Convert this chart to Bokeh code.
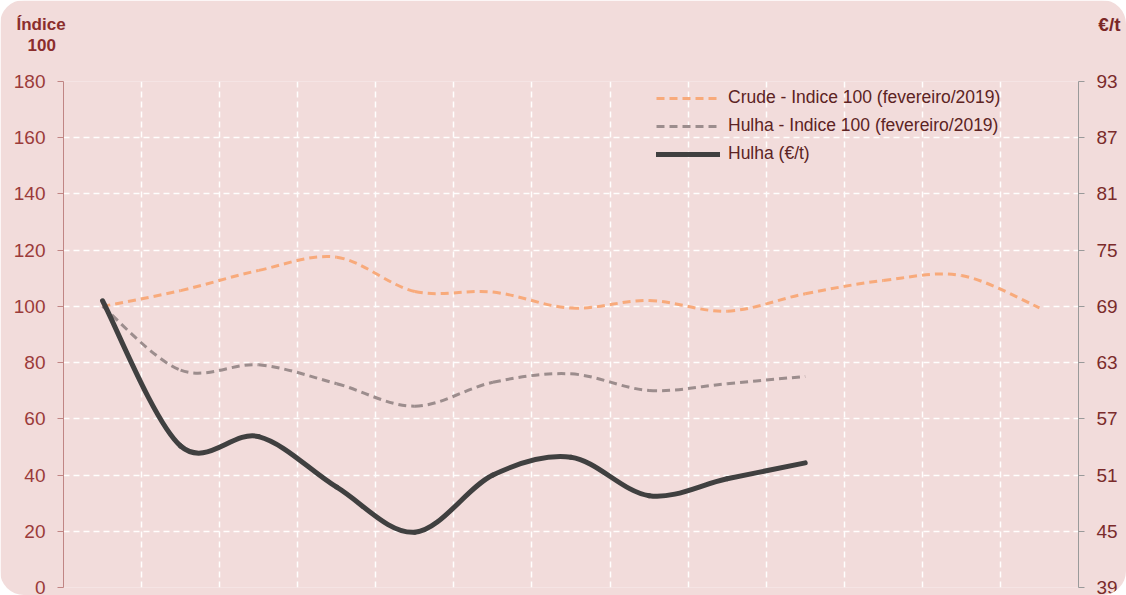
from bokeh.plotting import figure
from bokeh.models import (Range1d, LinearAxis, FixedTicker, Legend, LegendItem,
                          ColumnDataSource, InlineStyleSheet, Title)
from bokeh.embed import file_html
from bokeh.resources import INLINE

# ---- data ----
months = ["fev/19", "mar/19", "abr/19", "mai/19", "jun/19", "jul/19", "ago/19",
          "set/19", "out/19", "nov/19", "dez/19", "jan/20", "fev/20"]
crude_idx = [100, 105.6, 112.8, 117.5, 105.3, 105.1, 99.4, 102.1, 98.3, 104.5, 109.2, 111.0, 99.5]
hulha_idx = [100, 77.3, 79.2, 72.5, 64.5, 73.0, 76.0, 70.1, 72.5, 75.1]
hulha_eur = [69.6, 54.1, 55.1, 49.7, 44.9, 51.0, 52.9, 48.8, 50.6, 52.3]
left_ticks = [0, 20, 40, 60, 80, 100, 120, 140, 160, 180]
right_ticks = [39, 45, 51, 57, 63, 69, 75, 81, 87, 93]
series_names = ["Crude - Indice 100 (fevereiro/2019)",
                "Hulha - Indice 100 (fevereiro/2019)",
                "Hulha (€/t)"]

PINK = "#f2dcdb"


def smooth_source(values):
    """Bezier segments (Catmull-Rom control points) through the data points."""
    n = len(values)
    xs = [i + 0.5 for i in range(n)]
    d = dict(x0=[], y0=[], x1=[], y1=[], cx0=[], cy0=[], cx1=[], cy1=[])
    for i in range(n - 1):
        xp, yp = (xs[i - 1], values[i - 1]) if i > 0 else (xs[i], values[i])
        xn, yn = (xs[i + 2], values[i + 2]) if i + 2 < n else (xs[i + 1], values[i + 1])
        d["x0"].append(xs[i]); d["y0"].append(values[i])
        d["x1"].append(xs[i + 1]); d["y1"].append(values[i + 1])
        d["cx0"].append(xs[i] + (xs[i + 1] - xp) / 6)
        d["cy0"].append(values[i] + (values[i + 1] - yp) / 6)
        d["cx1"].append(xs[i + 1] - (xn - xs[i]) / 6)
        d["cy1"].append(values[i + 1] - (yn - values[i]) / 6)
    return ColumnDataSource(d)


p = figure(width=1126, height=595, output_backend="svg", toolbar_location=None,
           x_range=Range1d(0, len(months)), y_range=Range1d(0, 180),
           min_border_left=63, min_border_right=48, min_border_top=81, min_border_bottom=8)
p.stylesheets = [InlineStyleSheet(css=":host { border-radius: 24px; overflow: hidden; }")]
p.background_fill_color = PINK
p.border_fill_color = PINK
p.outline_line_color = None

p.extra_y_ranges = {"eur": Range1d(39, 93)}

# axes
p.xaxis.visible = False
yl = p.yaxis[0]
yl.ticker = FixedTicker(ticks=left_ticks)
yl.axis_line_color = "#c08584"
yl.major_tick_line_color = "#c08584"
yl.major_tick_out = 6
yl.major_tick_in = 0
yl.minor_tick_line_color = None
yl.major_label_standoff = 12
yl.major_label_text_font = "Liberation Sans"
yl.major_label_text_font_size = "19px"
yl.major_label_text_color = "#9b3b3a"

yr = LinearAxis(y_range_name="eur", ticker=FixedTicker(ticks=right_ticks))
yr.axis_line_color = "#9a9a9a"
yr.major_tick_line_color = "#9a9a9a"
yr.major_tick_out = 6
yr.major_tick_in = 0
yr.minor_tick_line_color = None
yr.major_label_standoff = 12
yr.major_label_text_font = "Liberation Sans"
yr.major_label_text_font_size = "19px"
yr.major_label_text_color = "#7a2b2b"
p.add_layout(yr, "right")

# grids
p.xgrid.ticker = FixedTicker(ticks=list(range(0, len(months) + 1)))
for g in (p.xgrid, p.ygrid):
    g.grid_line_color = "white"
    g.grid_line_dash = "6 4"
    g.grid_line_width = 1.5
    g.grid_line_alpha = 0.95

# smoothed lines
p.bezier(x0="x0", y0="y0", x1="x1", y1="y1", cx0="cx0", cy0="cy0", cx1="cx1", cy1="cy1",
         source=smooth_source(crude_idx), line_color="#f8aa7b", line_width=3, line_dash="8 5")
p.bezier(x0="x0", y0="y0", x1="x1", y1="y1", cx0="cx0", cy0="cy0", cx1="cx1", cy1="cy1",
         source=smooth_source(hulha_idx), line_color="#9c8d8d", line_width=3, line_dash="8 5")
p.bezier(x0="x0", y0="y0", x1="x1", y1="y1", cx0="cx0", cy0="cy0", cx1="cx1", cy1="cy1",
         source=smooth_source(hulha_eur), y_range_name="eur",
         line_color="#404040", line_width=5, line_cap="round")

# legend (proxy renderers)
r1 = p.line(x=[0, 0], y=[-50, -50], line_color="#f8aa7b", line_width=3, line_dash="8 5")
r2 = p.line(x=[0, 0], y=[-50, -50], line_color="#9c8d8d", line_width=3, line_dash="8 5")
r3 = p.line(x=[0, 0], y=[-50, -50], line_color="#404040", line_width=5, line_cap="round")
legend = Legend(items=[LegendItem(label=series_names[0], renderers=[r1]),
                       LegendItem(label=series_names[1], renderers=[r2]),
                       LegendItem(label=series_names[2], renderers=[r3])],
                location="top_right", margin=6, padding=0, spacing=7,
                glyph_width=64, glyph_height=20, label_height=20, label_standoff=8,
                label_width=344,
                label_text_font="Liberation Sans", label_text_font_size="17.5px",
                label_text_color="#5c2323",
                background_fill_alpha=0, border_line_color=None)
p.add_layout(legend, "center")

# axis titles as Titles in the 'above' panel (first added = nearest the frame)
TITLE_COLOR = "#8b2e2d"
tA = Title(text="100", align="left", offset=-36, vertical_align="bottom", standoff=60.6,
           text_font="Liberation Sans", text_font_style="bold", text_font_size="17px",
           text_color=TITLE_COLOR)
p.add_layout(tA, "above")
tB = Title(text="Índice", align="left", offset=-47, vertical_align="bottom", standoff=-55.6,
           text_font="Liberation Sans", text_font_style="bold", text_font_size="17px",
           text_color=TITLE_COLOR)
p.add_layout(tB, "above")
tC = Title(text="€/t", align="right", offset=-42, vertical_align="bottom", standoff=-56.8,
           text_font="Liberation Sans", text_font_style="bold", text_font_size="19px",
           text_color="#7b2727")
p.add_layout(tC, "above")

open("out.html", "w").write(file_html(p, INLINE))
